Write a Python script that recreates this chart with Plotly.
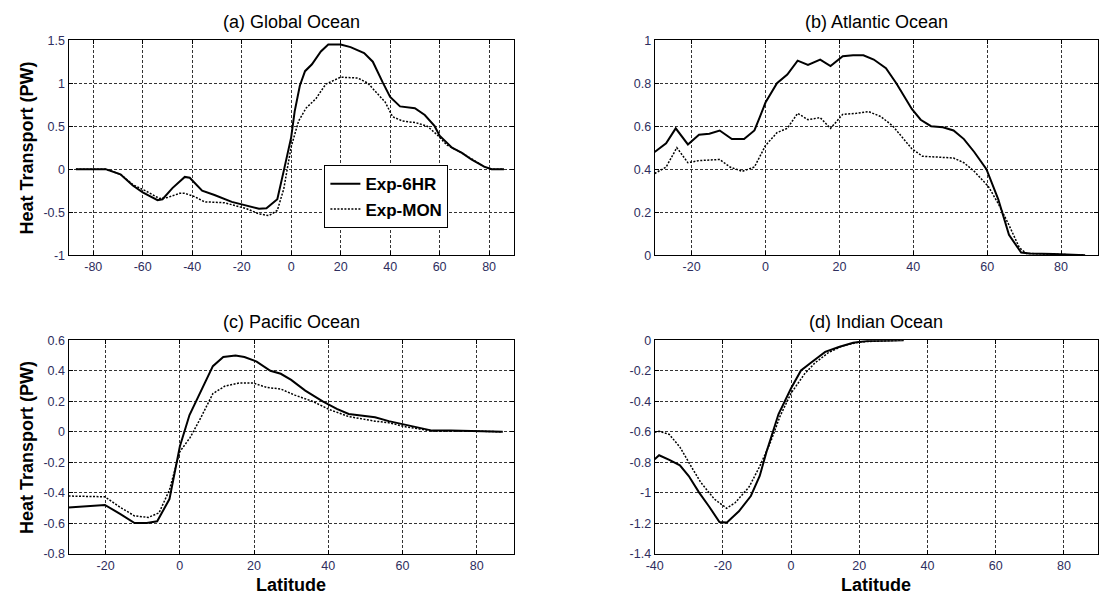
import plotly.graph_objects as go
from plotly.subplots import make_subplots

# ---------------- data ----------------
# (a) Global Ocean
glob_lat_6hr = [-87, -75, -69, -64, -60, -54, -52, -48, -43, -41, -36, -31, -24, -17, -13, -10, -5.6, -3, 0,
                1.4, 3.5, 5.6, 8.4, 12, 15, 20, 24, 29.5, 33, 37, 40, 44, 50, 54, 58, 60, 65, 69, 73, 78, 81, 86]
glob_6hr = [0, 0, -0.06, -0.19, -0.27, -0.36, -0.35, -0.22, -0.09, -0.10, -0.25, -0.30, -0.38, -0.43, -0.46,
            -0.455, -0.35, -0.02, 0.37, 0.67, 0.97, 1.14, 1.22, 1.37, 1.45, 1.45, 1.42, 1.35, 1.25, 1.01, 0.84,
            0.73, 0.71, 0.63, 0.50, 0.39, 0.25, 0.19, 0.11, 0.03, 0.0, 0.0]
glob_lat_mon = [-87, -75, -69, -64, -59, -53.3, -50, -45, -43, -39, -35, -27, -18, -13, -9, -5.6, -3, 0, 3, 6,
                10, 14, 20, 27, 31, 35, 38, 41, 45, 50.5, 55, 59, 63, 69, 78, 81, 86]
glob_mon = [0, 0, -0.06, -0.18, -0.25, -0.34, -0.33, -0.28, -0.28, -0.32, -0.38, -0.39, -0.46, -0.52, -0.54,
            -0.48, -0.23, 0.26, 0.56, 0.71, 0.82, 0.99, 1.07, 1.06, 1.0, 0.88, 0.78, 0.61, 0.56, 0.54, 0.50,
            0.40, 0.28, 0.19, 0.03, 0.0, 0.0]

# (b) Atlantic Ocean
atl_lat_6hr = [-30, -26.9, -24.3, -21, -18, -15.2, -12.4, -9.1, -5.8, -3, -1.6, 0, 3.1, 5.9, 8.7, 11.5, 14.8,
               17.6, 20.9, 23.7, 26.5, 29.3, 32.6, 35.4, 39.6, 42, 44.8, 48, 50.9, 53.7, 56.5, 59.8, 63, 65.9,
               69.2, 71.5, 78, 86.5]
atl_6hr = [0.48, 0.52, 0.59, 0.515, 0.56, 0.565, 0.58, 0.54, 0.54, 0.58, 0.64, 0.71, 0.80, 0.84, 0.905, 0.885,
           0.91, 0.88, 0.925, 0.93, 0.93, 0.91, 0.87, 0.80, 0.68, 0.63, 0.60, 0.595, 0.58, 0.54, 0.48, 0.40,
           0.26, 0.095, 0.012, 0.008, 0.005, 0.0]
atl_lat_mon = [-30, -26.9, -24, -21, -18, -12.4, -9.6, -6.3, -3, 0, 3.1, 5.9, 8.7, 11.5, 14.8, 17.6, 20.9,
               24.6, 27.9, 31.2, 34.5, 39.6, 42.5, 46.2, 50.9, 53.7, 56.5, 60.3, 63, 65.9, 68.7, 70.6, 78, 86.5]
atl_mon = [0.38, 0.41, 0.50, 0.43, 0.44, 0.445, 0.41, 0.39, 0.41, 0.51, 0.57, 0.59, 0.66, 0.63, 0.64, 0.59,
           0.655, 0.66, 0.668, 0.645, 0.60, 0.495, 0.46, 0.455, 0.452, 0.43, 0.39, 0.32, 0.24, 0.14, 0.035,
           0.008, 0.005, 0.0]

# (c) Pacific Ocean
pac_lat_6hr = [-30, -20.2, -16, -12.2, -8.9, -6.1, -2.8, -1.4, 0, 2.6, 5.6, 8.9, 11.7, 15, 17.4, 20.7, 24.4,
               27.2, 30, 33.8, 38.5, 42.3, 45.5, 48.8, 52.6, 56.3, 60, 63.8, 68, 73, 78, 87]
pac_6hr = [-0.495, -0.478, -0.538, -0.597, -0.597, -0.585, -0.44, -0.27, -0.096, 0.11, 0.26, 0.43, 0.49, 0.50,
           0.49, 0.46, 0.40, 0.38, 0.34, 0.27, 0.20, 0.15, 0.117, 0.106, 0.096, 0.07, 0.049, 0.028, 0.008,
           0.008, 0.006, 0.0]
pac_lat_mon = [-30, -20.2, -16, -12.2, -8.5, -5.6, -2.8, -1.4, 0, 2.8, 5.6, 8.9, 12.2, 16, 19.7, 23.5, 27.2,
               31, 35.7, 40.4, 45.5, 52.6, 56.3, 61, 68, 78, 87]
pac_mon = [-0.42, -0.425, -0.495, -0.55, -0.56, -0.53, -0.38, -0.26, -0.13, -0.036, 0.09, 0.25, 0.30, 0.32,
           0.32, 0.29, 0.28, 0.24, 0.20, 0.145, 0.10, 0.07, 0.06, 0.032, 0.006, 0.006, 0.0]

# (d) Indian Ocean
ind_lat_6hr = [-40, -38.7, -35.7, -32.6, -30, -27, -24, -21, -18.9, -15.3, -11.8, -9.2, -7.2, -3.7, 0, 2.9, 6,
               10, 14, 18.2, 22.3, 27.3, 33]
ind_6hr = [-0.779, -0.753, -0.783, -0.819, -0.889, -0.996, -1.09, -1.19, -1.194, -1.12, -1.02, -0.889, -0.73,
           -0.485, -0.315, -0.198, -0.145, -0.077, -0.045, -0.017, -0.006, -0.004, 0.0]
ind_lat_mon = [-40, -38.7, -35.7, -32.6, -29.6, -26.5, -22.5, -18.9, -16.4, -12.3, -9.2, -6.2, -3.2, 0, 4, 7,
               11, 15, 20.2, 26.3, 33]
ind_mon = [-0.602, -0.596, -0.617, -0.70, -0.815, -0.93, -1.04, -1.10, -1.064, -0.96, -0.826, -0.677, -0.496,
           -0.347, -0.219, -0.149, -0.081, -0.038, -0.011, -0.004, 0.0]

panel_titles = ["(a) Global Ocean", "(b) Atlantic Ocean", "(c) Pacific Ocean", "(d) Indian Ocean"]
series_names = ["Exp-6HR", "Exp-MON"]

x_ranges = [[-90, 90], [-30, 90], [-30, 90], [-40, 90]]
x_ticks = [[-80, -60, -40, -20, 0, 20, 40, 60, 80],
           [-20, 0, 20, 40, 60, 80],
           [-20, 0, 20, 40, 60, 80],
           [-40, -20, 0, 20, 40, 60, 80]]
y_ranges = [[-1, 1.5], [0, 1], [-0.8, 0.6], [-1.4, 0]]
y_ticks = [[-1, -0.5, 0, 0.5, 1, 1.5],
           [0, 0.2, 0.4, 0.6, 0.8, 1],
           [-0.8, -0.6, -0.4, -0.2, 0, 0.2, 0.4, 0.6],
           [-1.4, -1.2, -1, -0.8, -0.6, -0.4, -0.2, 0]]


def fmt(v):
    return "%g" % v


panels = [
    (glob_lat_6hr, glob_6hr, glob_lat_mon, glob_mon),
    (atl_lat_6hr, atl_6hr, atl_lat_mon, atl_mon),
    (pac_lat_6hr, pac_6hr, pac_lat_mon, pac_mon),
    (ind_lat_6hr, ind_6hr, ind_lat_mon, ind_mon),
]

W, H = 1099, 608
# panel boxes in pixels (left, right, top, bottom)
boxes = [(60, 509, 34, 254), (651, 1098, 34, 254), (60, 509, 341, 560), (651, 1098, 341, 560)]

fig = make_subplots(rows=2, cols=2)
FONT = "Liberation Sans, Arial, sans-serif"
TICKCOL = "#2e2e5e"

for i, (lx1, y1, lx2, y2) in enumerate(panels):
    r, c = i // 2 + 1, i % 2 + 1
    fig.add_trace(go.Scatter(x=lx1, y=y1, mode="lines", name=series_names[0],
                             line=dict(color="black", width=2), showlegend=(i == 0)), row=r, col=c)
    fig.add_trace(go.Scatter(x=lx2, y=y2, mode="lines", name=series_names[1],
                             line=dict(color="black", width=1.5, dash="2px,1.5px"), showlegend=(i == 0)),
                  row=r, col=c)
    L, R, T, B = boxes[i]
    common = dict(showline=True, linecolor="black", linewidth=1, mirror="ticks",
                  ticks="inside", ticklen=4, tickcolor="black",
                  showgrid=True, gridcolor="#333333", gridwidth=1, griddash="3px,2px",
                  zeroline=False, tickfont=dict(family=FONT, size=12.5, color=TICKCOL))
    fig.update_xaxes(domain=[L / W, R / W], range=x_ranges[i], tickvals=x_ticks[i],
                     ticktext=[fmt(v) for v in x_ticks[i]], row=r, col=c, **common)
    fig.update_yaxes(domain=[1 - B / H, 1 - T / H], range=y_ranges[i], tickvals=y_ticks[i],
                     ticktext=[fmt(v) for v in y_ticks[i]], row=r, col=c, **common)
    fig.add_annotation(x=(L + R) / 2 / W, y=1 - (T - 19) / H, xref="paper", yref="paper",
                       text=panel_titles[i], showarrow=False, xanchor="center", yanchor="middle",
                       font=dict(family=FONT, size=18, color="black"))

# axis titles
for T, B in [(34, 254), (341, 560)]:
    fig.add_annotation(x=18 / W, y=1 - (T + B) / 2 / H, xref="paper", yref="paper",
                       text="<b>Heat Transport (PW)</b>", textangle=-90, showarrow=False,
                       xanchor="center", yanchor="middle",
                       font=dict(family=FONT, size=18, color="black"))
for L, R in [(60, 509), (651, 1098)]:
    fig.add_annotation(x=(L + R) / 2 / W, y=1 - 592 / H, xref="paper", yref="paper",
                       text="<b>Latitude</b>", showarrow=False, xanchor="center", yanchor="middle",
                       font=dict(family=FONT, size=18, color="black"))

fig.update_layout(
    width=W, height=H,
    margin=dict(l=0, r=0, t=0, b=0),
    paper_bgcolor="white", plot_bgcolor="white",
    showlegend=True,
    legend=dict(x=318 / W, y=1 - 162 / H, xanchor="left", yanchor="top",
                bgcolor="white", bordercolor="black", borderwidth=1,
                font=dict(family=FONT, size=17, color="black", weight="bold"),
                tracegroupgap=0, itemwidth=30),
)

fig.write_html("out.html")
